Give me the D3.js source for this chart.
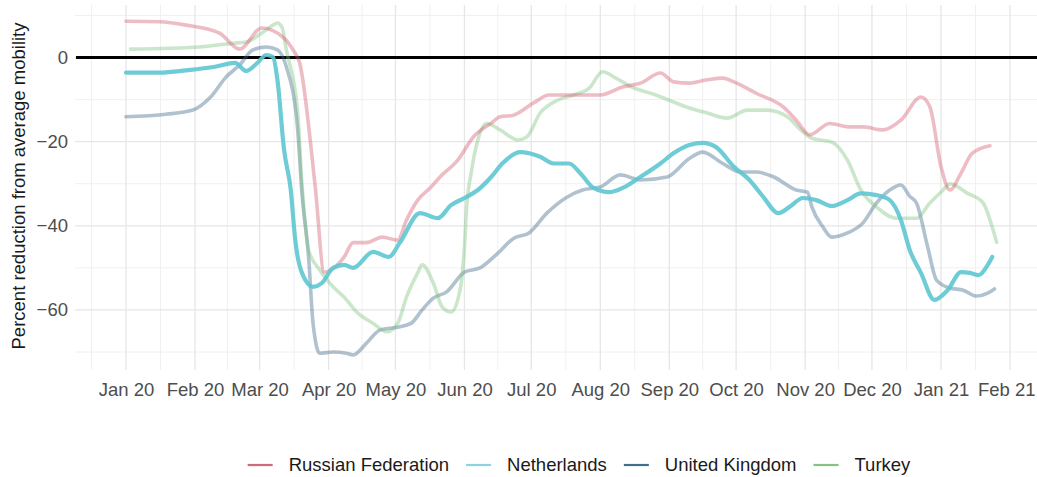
<!DOCTYPE html>
<html><head><meta charset="utf-8">
<script src="https://cdn.jsdelivr.net/npm/d3@7"></script>
<style>
html,body{margin:0;padding:0;background:#fff;}
svg{display:block;font-family:"Liberation Sans",Arial,sans-serif;}
</style></head>
<body><svg id="c" width="1037" height="477"></svg>
<script>
// ---------- data ----------
const seriesNames = ["Russian Federation", "Netherlands", "United Kingdom", "Turkey"];
const seriesColors = ["#D4586C", "#5DC6D2", "#3A6688", "#7DC47D"];
const legendColors = ["#CC6A7C", "#8CD2E2", "#3F6F8C", "#84C384"];

const russiaDates = ["2020-01-01","2020-01-16","2020-01-28","2020-02-12","2020-02-21","2020-03-02","2020-03-12","2020-03-16","2020-03-19","2020-03-26","2020-03-30","2020-04-08","2020-04-12","2020-04-18","2020-04-25","2020-05-02","2020-05-06","2020-05-11","2020-05-17","2020-05-21","2020-05-29","2020-06-05","2020-06-13","2020-06-17","2020-06-23","2020-07-02","2020-07-09","2020-07-20","2020-08-01","2020-08-11","2020-08-19","2020-08-28","2020-09-03","2020-09-10","2020-09-18","2020-09-25","2020-09-30","2020-10-10","2020-10-22","2020-10-28","2020-11-03","2020-11-12","2020-11-21","2020-11-27","2020-12-06","2020-12-14","2020-12-23","2020-12-27","2021-01-01","2021-01-05","2021-01-10","2021-01-15","2021-01-23"];
const russiaValues = [8.6,8.5,7.7,5.8,2.0,7.0,4.6,1.8,-1.3,-30.8,-51,-47.4,-44,-44,-42.7,-43.4,-38.6,-33.9,-30.8,-28.4,-24.4,-18.9,-15.6,-14.1,-13.7,-10.8,-8.9,-8.9,-8.9,-7.0,-6.1,-3.7,-5.8,-6.1,-5.3,-4.9,-5.8,-8.5,-11.7,-14.9,-18.4,-15.7,-16.5,-16.5,-17.2,-14.9,-9.4,-11.7,-25.9,-31.5,-27.5,-22.8,-21.0];

const netherlandsDates = ["2020-01-01","2020-01-16","2020-01-29","2020-02-10","2020-02-19","2020-02-24","2020-02-29","2020-03-04","2020-03-07","2020-03-09","2020-03-12","2020-03-15","2020-03-17","2020-03-20","2020-03-25","2020-03-29","2020-04-03","2020-04-08","2020-04-12","2020-04-21","2020-04-28","2020-05-03","2020-05-12","2020-05-20","2020-05-26","2020-06-01","2020-06-07","2020-06-13","2020-06-18","2020-06-26","2020-07-05","2020-07-11","2020-07-18","2020-07-23","2020-07-29","2020-08-05","2020-08-11","2020-08-19","2020-08-28","2020-09-03","2020-09-10","2020-09-16","2020-09-22","2020-09-30","2020-10-07","2020-10-13","2020-10-20","2020-10-25","2020-10-31","2020-11-06","2020-11-13","2020-11-20","2020-11-26","2020-12-03","2020-12-09","2020-12-14","2020-12-18","2020-12-23","2020-12-29","2021-01-04","2021-01-10","2021-01-14","2021-01-18","2021-01-22","2021-01-24"];
const netherlandsValues = [-3.6,-3.6,-3.0,-2.2,-1.3,-3.2,-1.3,0.6,0.1,-5.3,-22,-31.5,-43.4,-51.2,-54.5,-53.6,-50,-49.3,-50,-46.2,-47.4,-44,-37,-38.2,-35.1,-33.4,-31.5,-28.4,-25.2,-22.5,-23.6,-25.2,-25.2,-27.5,-31,-32,-31,-28.4,-25.2,-22.7,-20.8,-20.3,-21.3,-26,-29.1,-33,-37,-35.5,-33.4,-33.9,-35.3,-33.9,-32.3,-32.7,-33.9,-38.6,-45.8,-51.2,-57.6,-55.3,-51,-51.2,-51.7,-49.3,-47.4];

const ukDates = ["2020-01-01","2020-01-19","2020-01-31","2020-02-08","2020-02-15","2020-02-21","2020-02-27","2020-03-04","2020-03-09","2020-03-13","2020-03-18","2020-03-20","2020-03-23","2020-03-25","2020-03-28","2020-04-03","2020-04-09","2020-04-12","2020-04-18","2020-04-24","2020-05-02","2020-05-08","2020-05-13","2020-05-18","2020-05-24","2020-06-01","2020-06-08","2020-06-16","2020-06-23","2020-06-30","2020-07-08","2020-07-17","2020-07-24","2020-08-01","2020-08-10","2020-08-19","2020-08-31","2020-09-10","2020-09-16","2020-09-25","2020-10-03","2020-10-10","2020-10-18","2020-10-28","2020-11-02","2020-11-04","2020-11-09","2020-11-13","2020-11-20","2020-11-27","2020-12-03","2020-12-09","2020-12-14","2020-12-18","2020-12-21","2020-12-26","2020-12-30","2021-01-05","2021-01-11","2021-01-17","2021-01-22","2021-01-25"];
const ukValues = [-14.1,-13.5,-12.5,-9.4,-4.6,-1.8,1.8,2.5,1.8,-2.2,-16.5,-32,-47.4,-63.2,-70.3,-70,-70.3,-70.7,-67.9,-64.8,-64.1,-63.2,-60,-57.2,-55.7,-51,-50,-46.5,-43,-41.7,-37,-33.2,-31.5,-30.8,-27.9,-29.1,-28.4,-24,-22.5,-25.2,-27.2,-27.2,-28.4,-31.5,-32,-35.5,-40.3,-42.7,-41.7,-39.3,-34.6,-31.5,-30.3,-33,-34.6,-45,-52.9,-54.8,-55.3,-56.7,-56,-55];

const turkeyDates = ["2020-01-03","2020-02-03","2020-02-18","2020-02-24","2020-03-02","2020-03-07","2020-03-09","2020-03-11","2020-03-13","2020-03-18","2020-03-20","2020-03-23","2020-03-28","2020-04-03","2020-04-08","2020-04-14","2020-04-21","2020-04-27","2020-05-02","2020-05-06","2020-05-11","2020-05-13","2020-05-18","2020-05-22","2020-05-26","2020-05-30","2020-06-01","2020-06-02","2020-06-04","2020-06-07","2020-06-11","2020-06-17","2020-06-25","2020-06-29","2020-07-05","2020-07-13","2020-07-20","2020-07-27","2020-08-02","2020-08-08","2020-08-15","2020-08-26","2020-09-03","2020-09-10","2020-09-18","2020-09-27","2020-10-06","2020-10-15","2020-10-24","2020-10-30","2020-11-04","2020-11-13","2020-11-20","2020-11-26","2020-12-03","2020-12-12","2020-12-21","2020-12-27","2021-01-02","2021-01-05","2021-01-13","2021-01-20","2021-01-24","2021-01-26"];
const turkeyValues = [2.0,2.5,3.4,3.7,5.8,7.7,8.2,7.3,1.8,-12.5,-29.9,-45.8,-50.5,-54.5,-57,-60.7,-63.2,-65.2,-63.2,-56.9,-51.2,-49.3,-53.6,-59.3,-60.5,-55.3,-45,-35.5,-27.5,-19.6,-15.7,-17.2,-19.6,-18.9,-13.2,-10.1,-8.9,-7.3,-3.4,-4.9,-7.0,-8.9,-10.6,-12,-13.2,-14.4,-12.5,-12.5,-14.1,-17.2,-19.2,-20.1,-24.4,-31.5,-35.5,-38.2,-38.2,-34.6,-31.5,-30,-32.3,-34.6,-40.3,-43.9];

const yTicks = [0, -20, -40, -60];
const yMinor = [10, -10, -30, -50, -70];
const axisTitleY = "Percent reduction from average mobility";

// ---------- layout ----------
const W = 1037, H = 477;
const panel = {left: 75, right: 1039, top: 5, bottom: 370};
const parse = d3.utcParse("%Y-%m-%d");
const svg = d3.select("#c");

const x = d3.scaleUtc()
  .domain([parse("2020-01-01"), parse("2021-02-01")])
  .range([126, 1010]);
const y = d3.scaleLinear().domain([0, -70]).range([57.5, 352]);

const majorX = d3.utcMonth.range(parse("2020-01-01"), parse("2021-02-02"));
const minorX = [];
const allM = d3.utcMonth.range(parse("2019-12-01"), parse("2021-03-02"));
for (let i = 0; i < allM.length - 1; i++) {
  minorX.push(new Date((allM[i].getTime() + allM[i+1].getTime()) / 2));
}

const grid = svg.append("g");
grid.selectAll(".vmin").data(minorX).join("line")
  .attr("x1", d => x(d)).attr("x2", d => x(d))
  .attr("y1", panel.top).attr("y2", panel.bottom)
  .attr("stroke", "#f0f0f0").attr("stroke-width", 1);
grid.selectAll(".hmin").data(yMinor).join("line")
  .attr("x1", panel.left).attr("x2", panel.right)
  .attr("y1", d => y(d)).attr("y2", d => y(d))
  .attr("stroke", "#f0f0f0").attr("stroke-width", 1);
grid.selectAll(".vmaj").data(majorX).join("line")
  .attr("x1", d => x(d)).attr("x2", d => x(d))
  .attr("y1", panel.top).attr("y2", panel.bottom)
  .attr("stroke", "#e6e6e6").attr("stroke-width", 1.3);
grid.selectAll(".hmaj").data(yTicks).join("line")
  .attr("x1", panel.left).attr("x2", panel.right)
  .attr("y1", d => y(d)).attr("y2", d => y(d))
  .attr("stroke", "#e6e6e6").attr("stroke-width", 1.3);

svg.append("line")
  .attr("x1", panel.left + 1).attr("x2", panel.right)
  .attr("y1", y(0)).attr("y2", y(0))
  .attr("stroke", "#000").attr("stroke-width", 3);

const series = [
  {dates: russiaDates, values: russiaValues},
  {dates: netherlandsDates, values: netherlandsValues},
  {dates: ukDates, values: ukValues},
  {dates: turkeyDates, values: turkeyValues}
];
const line = d3.line().x(d => x(d[0])).y(d => y(d[1])).curve(d3.curveMonotoneX);
const order = [2, 3, 0, 1];
order.forEach(i => {
  const s = series[i];
  const pts = s.dates.map((d, k) => [parse(d), s.values[k]]);
  const hl = i === 1;
  svg.append("path")
    .attr("d", line(pts))
    .attr("fill", "none")
    .attr("stroke", seriesColors[i])
    .attr("stroke-opacity", hl ? 0.9 : 0.4)
    .attr("stroke-width", hl ? 4.2 : 3.6)
    .attr("stroke-linejoin", "round")
    .attr("stroke-linecap", "round");
});

// x axis
const fmt = d3.utcFormat("%b %y");
const xAxis = svg.append("g").attr("transform", `translate(0,${383})`)
  .call(d3.axisBottom(x).tickValues(majorX).tickFormat(fmt).tickSize(0).tickPadding(0));
xAxis.select(".domain").remove();
xAxis.selectAll("text").attr("font-size", 18.5).attr("fill", "#4d4d4d")
  .attr("font-family", "Liberation Sans, Arial, sans-serif").attr("dy", "0.71em");
const lastTxt = xAxis.selectAll(".tick text").filter((d, i, n) => i === n.length - 1);
const lw = lastTxt.node().getComputedTextLength();
const overflow = x(majorX[majorX.length - 1]) + lw / 2 - (W - 2);
if (overflow > 0) lastTxt.attr("x", -overflow);

// y axis
const yAxis = svg.append("g").attr("transform", `translate(${68},0)`)
  .call(d3.axisLeft(y).tickValues(yTicks).tickFormat(d => d === 0 ? "0" : "\u2212" + Math.abs(d)).tickSize(0).tickPadding(0));
yAxis.select(".domain").remove();
yAxis.selectAll("text").attr("font-size", 18.5).attr("fill", "#4d4d4d")
  .attr("font-family", "Liberation Sans, Arial, sans-serif");

svg.append("text")
  .attr("transform", "translate(25,186) rotate(-90)")
  .attr("text-anchor", "middle")
  .attr("font-size", 18.5).attr("fill", "#1a1a1a")
  .text(axisTitleY);

// legend
const lg = svg.append("g");
let cx = 0;
seriesNames.forEach((n, i) => {
  const g = lg.append("g").attr("transform", `translate(${cx},0)`);
  g.append("line").attr("x1", 0).attr("x2", 25).attr("y1", 0).attr("y2", 0)
    .attr("stroke", legendColors[i]).attr("stroke-width", 2.2);
  const t = g.append("text").attr("x", 41).attr("y", 0).attr("dy", "0.35em")
    .attr("font-size", 18.5).attr("fill", "#1a1a1a").text(n);
  const w = t.node().getComputedTextLength();
  cx += 41 + w + 17;
});
const totalW = cx - 17;
lg.attr("transform", `translate(${579 - totalW / 2},${465})`);
</script></body></html>
